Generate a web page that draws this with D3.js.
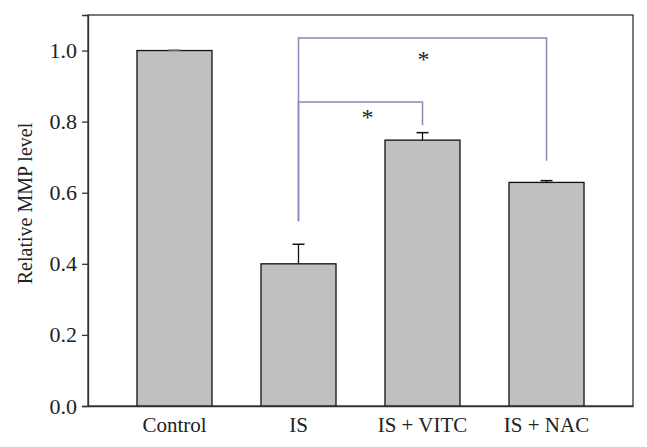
<!DOCTYPE html>
<html><head><meta charset="utf-8">
<script src="https://cdn.jsdelivr.net/npm/d3@7"></script>
<style>body{margin:0;background:#fff}svg{display:block}</style>
</head><body>
<svg id="c" width="647" height="447"></svg>
<script>
const categories = ["Control", "IS", "IS + VITC", "IS + NAC"];
const values = [1.0, 0.40, 0.748, 0.629];
const errors = [0.002, 0.055, 0.021, 0.005];
const yTicks = [0.0, 0.2, 0.4, 0.6, 0.8, 1.0];
const yLabel = "Relative MMP level";
const brackets = [
  {from: 1, to: 3, level: 1.035, leftEnd: 0.52, rightEnd: 0.69, label: "*", starLevel: 0.98},
  {from: 1, to: 2, level: 0.855, leftEnd: 0.52, rightEnd: 0.79, label: "*", starLevel: 0.815}
];

const svg = d3.select("#c");
const L = 88, R = 633, T = 15, B = 406;
const font = "'Liberation Serif', 'DejaVu Serif', serif";
const x = d3.scaleBand().domain(categories).range([L, R]).paddingInner(0.395).paddingOuter(0.395);
const y = d3.scaleLinear().domain([0, 1.1]).range([B, T]);

svg.append("rect").attr("x", L).attr("y", T).attr("width", R - L).attr("height", B - T)
  .attr("fill", "none").attr("stroke", "#333").attr("stroke-width", 1.3);

svg.selectAll("rect.bar").data(categories).enter().append("rect").attr("class", "bar")
  .attr("x", d => x(d)).attr("width", x.bandwidth())
  .attr("y", (d, i) => y(values[i])).attr("height", (d, i) => y(0) - y(values[i]))
  .attr("fill", "#c0c0c0").attr("stroke", "#111").attr("stroke-width", 1.3);

const cw = 6;
categories.forEach((d, i) => {
  const cx = x(d) + x.bandwidth() / 2;
  const col = i === 0 ? "#999" : "#111";
  svg.append("line").attr("x1", cx).attr("x2", cx).attr("y1", y(values[i])).attr("y2", y(values[i] + errors[i]))
    .attr("stroke", col).attr("stroke-width", 1.3);
  svg.append("line").attr("x1", cx - cw).attr("x2", cx + cw).attr("y1", y(values[i] + errors[i])).attr("y2", y(values[i] + errors[i]))
    .attr("stroke", col).attr("stroke-width", 1.5);
});

const yAxis = d3.axisLeft(y).tickValues(yTicks).tickFormat(d3.format(".1f")).tickSize(6).tickPadding(5);
const ga = svg.append("g").attr("transform", `translate(${L},0)`).call(yAxis);
ga.attr("font-size", null).attr("font-family", null);
ga.select(".domain").attr("stroke", "#333").attr("stroke-width", 1.3);
ga.selectAll(".tick line").attr("stroke", "#333").attr("stroke-width", 1.3);
ga.selectAll(".tick text").attr("font-family", font).style("font-size", "22px").attr("fill", "#222");

const xAxis = d3.axisBottom(x).tickSize(0).tickPadding(11);
const gx = svg.append("g").attr("transform", `translate(0,${B})`).call(xAxis);
gx.attr("font-size", null).attr("font-family", null);
gx.select(".domain").attr("stroke", "#333").attr("stroke-width", 1.3);
gx.selectAll(".tick text").attr("font-family", font).style("font-size", "21px").attr("fill", "#222");

svg.append("text").attr("transform", `translate(32,${(T + B) / 2 - 7}) rotate(-90)`)
  .attr("text-anchor", "middle").attr("font-family", font).style("font-size", "20px").attr("fill", "#222").text(yLabel);

const purple = "#9383b8";
brackets.forEach(b => {
  const x1 = x(categories[b.from]) + x.bandwidth() / 2;
  const x2 = x(categories[b.to]) + x.bandwidth() / 2;
  const path = d3.path();
  path.moveTo(x1, y(b.leftEnd));
  path.lineTo(x1, y(b.level));
  path.lineTo(x2, y(b.level));
  path.lineTo(x2, y(b.rightEnd));
  svg.append("path").attr("d", path.toString()).attr("fill", "none").attr("stroke", purple).attr("stroke-width", 1.5);
  svg.append("text").attr("x", (x1 + x2) / 2 + (b.to === 2 ? 7 : 1)).attr("y", y(b.starLevel) + 9)
    .attr("text-anchor", "middle").attr("font-family", font).style("font-size", "24px").attr("fill", "#222").text(b.label);
});
</script>
</body></html>
